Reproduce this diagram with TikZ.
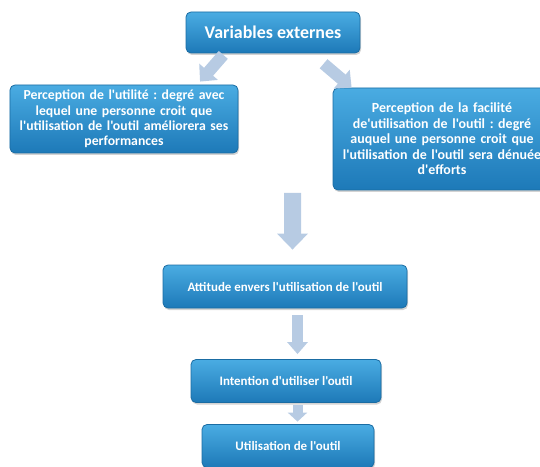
\documentclass[tikz,border=0pt]{standalone}
\usepackage{fontspec}
\setmainfont{Carlito}[Ligatures=TeXOff]
\usepackage{tikz}
\usetikzlibrary{arrows.meta,shadows,positioning}
\definecolor{boxtop}{HTML}{4AACE2}
\definecolor{boxbot}{HTML}{1D79B8}
\definecolor{boxline}{HTML}{1A6CA3}
\definecolor{arrowfill}{HTML}{B7CBE3}
\frenchspacing

\begin{document}
\begin{tikzpicture}
      [x=1bp, y=-1bp,
       box/.style={rectangle, rounded corners=5bp, draw=boxline, line width=0.8bp,
         top color=boxtop, bottom color=boxbot, text=white, align=center,
         inner sep=1bp, drop shadow={opacity=0.35, shadow xshift=1bp, shadow yshift=-2bp}},
       txt/.style={font=\fontsize{13.8}{15.4}\selectfont\bfseries},
       small/.style={font=\fontsize{13}{14}\selectfont\bfseries},
       flow/.style={draw=arrowfill, line cap=butt}]
      \useasboundingbox (0,0) rectangle (540,467);

      \node (ve) [box, minimum width=174bp, minimum height=41bp,
        font=\fontsize{18}{20}\selectfont\bfseries] at (273, 32.5) {Variables externes};
      \node (util) [box, text width=226bp, minimum height=68bp, txt] at (124, 119)
        {Perception de l'utilité : degré avec\\lequel une personne croit que\\l'utilisation de l'outil améliorera ses\\performances};
      \node (facil) [box, text width=216bp, minimum height=102bp, txt,
        font=\fontsize{14}{15.6}\selectfont\bfseries] at (442, 139)
        {Perception de la facilité\\de'utilisation de l'outil : degré\\auquel une personne croit que\\l'utilisation de l'outil sera dénuée\\d'efforts};
      \node (att) [box, minimum width=244bp, minimum height=43bp, small] at (285, 286.5)
        {Attitude envers l'utilisation de l'outil};
      \node (int) [box, minimum width=190bp, minimum height=43bp, small] at (286, 381)
        {Intention d'utiliser l'outil};
      \node (use) [box, minimum width=172bp, minimum height=43bp, small] at (288, 446)
        {Utilisation de l'outil};
      \coordinate (join) at (292.5, 193);

      \draw [flow, line width=12bp, -{Triangle[width=24bp, length=13bp]}, shorten <=2bp, shorten >=4bp]
        ([xshift=39bp]ve.south west) -- ([xshift=-41bp]util.north east);
      \draw [flow, line width=12bp, -{Triangle[width=24bp, length=13bp]}, shorten <=16bp]
        ([xshift=-49bp]ve.south east) -- ([xshift=19bp]facil.north west);
      \draw [flow, line width=17bp, -{Triangle[width=30bp, length=16bp]}, shorten >=15bp]
        (join) -- ([xshift=7.5bp]att.north);
      \draw [flow, line width=11bp, -{Triangle[width=20bp, length=12bp]}, shorten <=7bp, shorten >=5bp]
        ([xshift=12.5bp]att.south) -- ([xshift=12.5bp]att.south |- int.north);
      \draw [flow, line width=10bp, -{Triangle[width=19bp, length=9bp]}, shorten <=2.5bp, shorten >=2.5bp]
        ([xshift=11.5bp]int.south) -- ([xshift=11.5bp]int.south |- use.north);

    \end{tikzpicture}
\end{document}
